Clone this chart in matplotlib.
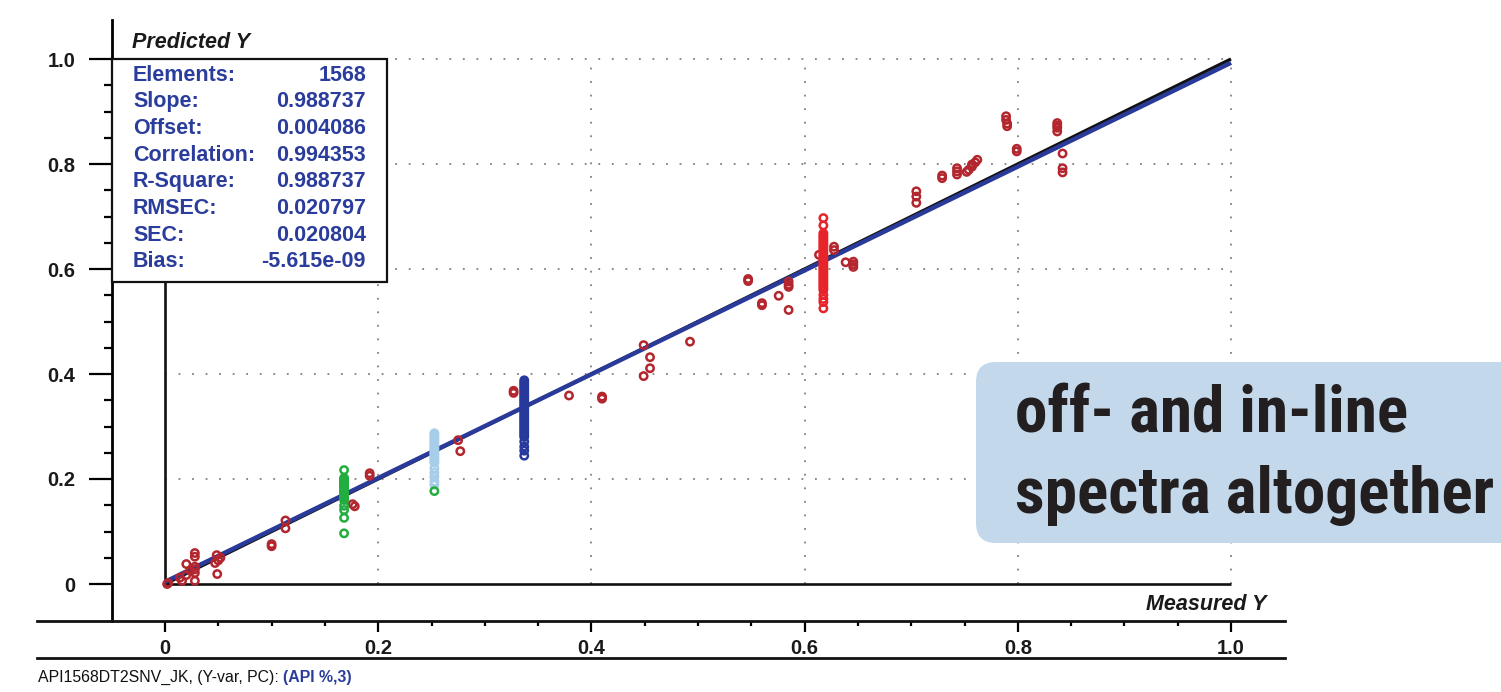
import numpy as np
import matplotlib
matplotlib.use("Agg")
import matplotlib.pyplot as plt
from matplotlib.lines import Line2D
from matplotlib.patches import Rectangle, FancyBboxPatch
from matplotlib import font_manager

plt.rcParams['font.family'] = ['Liberation Sans', 'DejaVu Sans']

# ---------------- data ----------------
stat_names = ["Elements:", "Slope:", "Offset:", "Correlation:", "R-Square:",
              "RMSEC:", "SEC:", "Bias:"]
stat_values = ["1568", "0.988737", "0.004086", "0.994353", "0.988737",
               "0.020797", "0.020804", "-5.615e-09"]
slope = 0.988737
offset = 0.004086

x_ticks = [0.0, 0.2, 0.4, 0.6, 0.8, 1.0]
x_tick_labels = ["0", "0.2", "0.4", "0.6", "0.8", "1.0"]
y_ticks = [0.0, 0.2, 0.4, 0.6, 0.8, 1.0]
y_tick_labels = ["0", "0.2", "0.4", "0.6", "0.8", "1.0"]

# individual samples (measured, predicted)
red_measured = [0.002, 0.003, 0.016, 0.014, 0.020, 0.020, 0.024, 0.028, 0.028,
                0.028, 0.028, 0.028, 0.028, 0.047, 0.0485, 0.052, 0.050, 0.049,
                0.100, 0.100, 0.113, 0.113, 0.176, 0.178, 0.192, 0.192, 0.275,
                0.277, 0.327, 0.327, 0.379, 0.410, 0.410, 0.449, 0.455, 0.455,
                0.449, 0.4925, 0.547, 0.547, 0.560, 0.560, 0.5757, 0.585, 0.585,
                0.585, 0.585, 0.6135, 0.6276, 0.6276, 0.6385, 0.6457, 0.6457,
                0.6457, 0.7048, 0.7048, 0.7048, 0.729, 0.729, 0.743, 0.743,
                0.743, 0.752, 0.754, 0.757, 0.757, 0.760, 0.762, 0.789, 0.789,
                0.790, 0.790, 0.799, 0.799, 0.837, 0.837, 0.837, 0.837, 0.842,
                0.842, 0.842]
red_predicted = [0.000, 0.002, 0.006, 0.012, 0.038, 0.017, 0.025, 0.059, 0.052,
                 0.033, 0.028, 0.021, 0.006, 0.040, 0.055, 0.050, 0.045, 0.019,
                 0.076, 0.072, 0.121, 0.106, 0.152, 0.148, 0.211, 0.206, 0.274,
                 0.253, 0.368, 0.364, 0.359, 0.357, 0.353, 0.455, 0.432, 0.411,
                 0.396, 0.4616, 0.581, 0.577, 0.535, 0.531, 0.549, 0.576, 0.570,
                 0.566, 0.522, 0.627, 0.6425, 0.636, 0.6128, 0.614, 0.609,
                 0.604, 0.748, 0.738, 0.726, 0.778, 0.773, 0.792, 0.786, 0.780,
                 0.785, 0.789, 0.795, 0.799, 0.803, 0.808, 0.891, 0.884, 0.877,
                 0.872, 0.829, 0.824, 0.878, 0.873, 0.869, 0.862, 0.820, 0.792,
                 0.784]

# replicate groups measured at a single reference value
green_x = 0.168
green_y = [0.217, 0.202, 0.199, 0.196, 0.193, 0.190, 0.187, 0.184, 0.181,
           0.178, 0.175, 0.172, 0.169, 0.166, 0.163, 0.160, 0.149, 0.141,
           0.126, 0.0965]
green_extra_x = 0.2527
green_extra_y = [0.177]

lightblue_x = 0.2527
lightblue_y = [0.287, 0.283, 0.279, 0.275, 0.271, 0.267, 0.263, 0.259, 0.255,
               0.251, 0.247, 0.243, 0.239, 0.235, 0.231, 0.220, 0.212, 0.204,
               0.195, 0.189]

darkblue_x = 0.337
darkblue_y = [0.388, 0.384, 0.380, 0.376, 0.372, 0.368, 0.364, 0.360, 0.356,
              0.352, 0.348, 0.344, 0.340, 0.336, 0.332, 0.328, 0.324, 0.320,
              0.316, 0.312, 0.308, 0.304, 0.300, 0.296, 0.292, 0.288, 0.284,
              0.280, 0.271, 0.2616, 0.254, 0.2444]

brightred_x = 0.6176
brightred_y = [0.697, 0.683, 0.668, 0.664, 0.660, 0.656, 0.652, 0.648, 0.644,
               0.640, 0.636, 0.632, 0.628, 0.624, 0.620, 0.616, 0.612, 0.608,
               0.604, 0.600, 0.596, 0.592, 0.588, 0.584, 0.580, 0.576, 0.572,
               0.568, 0.564, 0.560, 0.5505, 0.543, 0.537, 0.525]

# ---------------- figure ----------------
W, H = 1501, 692
DPI = 100
fig = plt.figure(figsize=(W / DPI, H / DPI), dpi=DPI)

# pixel geometry of the plotting frame
px_left, px_right = 112, 1285
px_top, px_bottom = 20, 621
px_x0, px_x1 = 165, 1231
px_y0, px_y1 = 584, 59
sx = (px_x1 - px_x0)
sy = (px_y0 - px_y1)

ax = fig.add_axes([px_left / W, 1 - px_bottom / H,
                   (px_right - px_left) / W, (px_bottom - px_top) / H])
ax.set_xlim((px_left - px_x0) / sx, (px_right - px_x0) / sx)
ax.set_ylim((px_y0 - px_bottom) / sy, (px_y0 - px_top) / sy)

for s in ("top", "right", "bottom"):
    ax.spines[s].set_visible(False)
ax.spines["left"].set_linewidth(2.0)
ax.patch.set_alpha(0)

# ticks
minor = [round(v, 2) for v in np.arange(0.05, 1.0, 0.05)
         if round(v, 2) not in (0.2, 0.4, 0.6, 0.8)]
ax.set_xticks(x_ticks)
ax.set_xticklabels(x_tick_labels)
ax.set_yticks(y_ticks)
ax.set_yticklabels(y_tick_labels)
ax.set_xticks(minor, minor=True)
ax.set_yticks(minor, minor=True)
ax.tick_params(axis="x", which="major", direction="out", length=8, width=1.6,
               pad=5, labelsize=14.5)
ax.tick_params(axis="x", which="minor", direction="out", length=3.5, width=1.6)
ax.tick_params(axis="y", which="major", direction="out", length=16.5, width=1.6,
               pad=10, labelsize=14.5)
ax.tick_params(axis="y", which="minor", direction="out", length=5.8, width=1.6)
for lab in ax.get_xticklabels() + ax.get_yticklabels():
    lab.set_fontweight("bold")
    lab.set_color("#1a1a1a")

# dotted grid inside the unit square
grid_kw = dict(color="#808080", lw=1.3, linestyles=(0, (1, 6.5)), zorder=1)
ax.hlines(y_ticks[1:], 0, 1, **grid_kw)
ax.vlines(x_ticks[1:], 0, 1, **grid_kw)

# inner frame at zero
ax.plot([0, 0], [0, 1], color="#111111", lw=1.9, zorder=2, solid_capstyle="butt")
ax.plot([0, 1], [0, 0], color="#111111", lw=1.9, zorder=2, solid_capstyle="butt")

# target and fitted lines
line_x = np.array([0.0, 1.0])
ax.plot(line_x, line_x, color="#111111", lw=2.4, zorder=3,
        solid_capstyle="butt")
ax.plot(line_x, slope * line_x + offset, color="#2a3a98", lw=3.2, zorder=3.5,
        solid_capstyle="butt")

# samples
sc_kw = dict(s=28, facecolors="none", linewidths=1.8, zorder=4)
ax.scatter(red_measured, red_predicted, edgecolors="#b3262e", **sc_kw)
ax.scatter([green_x] * len(green_y), green_y, edgecolors="#22ad3f", **sc_kw)
ax.scatter([lightblue_x] * len(lightblue_y), lightblue_y,
           edgecolors="#a6cde9", **sc_kw)
ax.scatter([green_extra_x] * len(green_extra_y), green_extra_y,
           edgecolors="#22ad3f", **sc_kw)
ax.scatter([darkblue_x] * len(darkblue_y), darkblue_y,
           edgecolors="#27399b", **sc_kw)
ax.scatter([brightred_x] * len(brightred_y), brightred_y,
           edgecolors="#e8242b", **sc_kw)

# statistics box
bx0 = (px_left - px_x0) / sx
bx1 = (387 - px_x0) / sx
by0 = (px_y0 - 282) / sy
by1 = 1.0
ax.add_patch(Rectangle((bx0, by0), bx1 - bx0, by1 - by0, facecolor="white",
                       edgecolor="#111111", lw=1.6, zorder=6, clip_on=False))
row0 = (px_y0 - 75) / sy
row_step = 26.7 / sy
for i, (n, v) in enumerate(zip(stat_names, stat_values)):
    yy = row0 - i * row_step
    ax.text((133 - px_x0) / sx, yy, n, ha="left", va="center", fontsize=15.5,
            fontweight="bold", color="#2b3d9c", zorder=7)
    ax.text((366 - px_x0) / sx, yy, v, ha="right", va="center", fontsize=15.5,
            fontweight="bold", color="#2b3d9c", zorder=7)

# axis captions
ax.text((132 - px_x0) / sx, (px_y0 - 42) / sy, "Predicted Y", ha="left",
        va="center", fontsize=15.5, fontstyle="italic", fontweight="bold",
        color="#1a1a1a", clip_on=False)
ax.text((1267 - px_x0) / sx, (px_y0 - 604) / sy, "Measured Y", ha="right",
        va="center", fontsize=15.5, fontstyle="italic", fontweight="bold",
        color="#1a1a1a", clip_on=False)

# horizontal rules under the plot
for ypix in (px_bottom, 658):
    fig.add_artist(Line2D([37 / W, px_right / W], [1 - ypix / H] * 2,
                          transform=fig.transFigure, color="#111111", lw=2.0))

# footer caption
t1 = fig.text(38 / W, 1 - 677 / H, "API1568DT2SNV_JK, (Y-var, PC): ",
              ha="left", va="center", fontsize=11.4, color="#111111")
ax.annotate("(API %,3)", xy=(1, 0), xycoords=t1, ha="left", va="bottom",
            fontsize=11.4, fontweight="bold", color="#2b3d9c",
            annotation_clip=False)

# highlighted remark, set in a condensed face where one is installed
condensed = ["Roboto Condensed", "Open Sans Condensed", "DejaVu Sans Condensed",
             "Liberation Sans Narrow", "Noto Sans Condensed"]
installed = {f.name for f in font_manager.fontManager.ttflist}
remark_family = [f for f in condensed if f in installed]
remark_size = 47
if not remark_family:
    remark_family = ["Liberation Sans"]
    remark_size = 41

fig.add_artist(FancyBboxPatch((976 / DPI, (H - 543) / DPI), 700 / DPI,
                              181 / DPI,
                              boxstyle="round,pad=0,rounding_size=0.2",
                              transform=fig.dpi_scale_trans,
                              facecolor="#c3d8ea", edgecolor="none",
                              zorder=8))
remark_kw = dict(ha="left", va="baseline", fontsize=remark_size,
                 fontweight="bold", color="#231f20",
                 family=remark_family + ["DejaVu Sans"], zorder=9)
fig.text(1015 / W, 1 - 432 / H, "off- and in-line", **remark_kw)
fig.text(1015 / W, 1 - 513 / H, "spectra altogether", **remark_kw)

fig.savefig("out.png", dpi=DPI)
